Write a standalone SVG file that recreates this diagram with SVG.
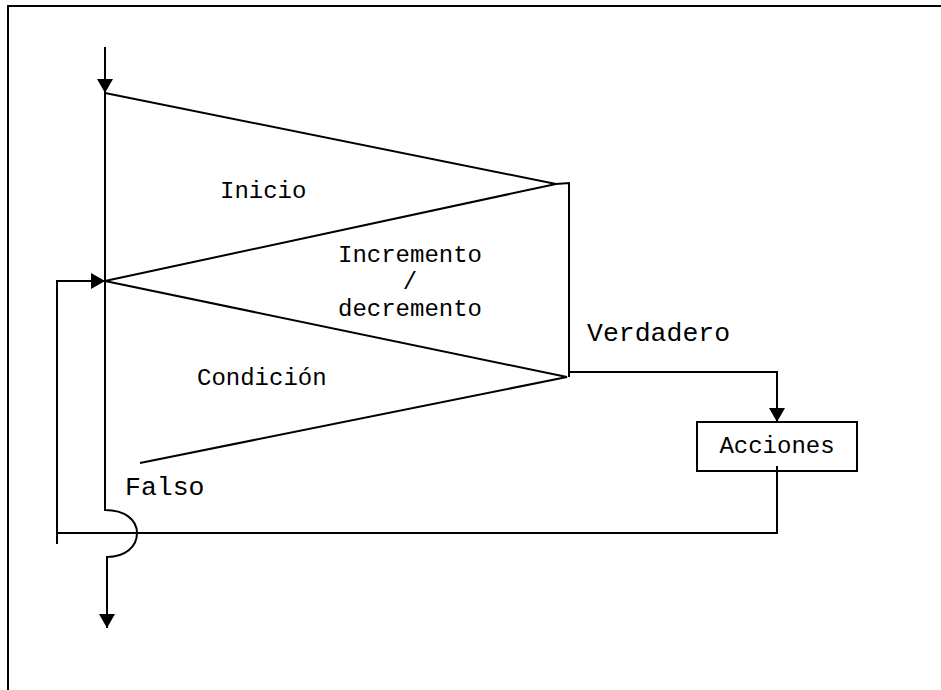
<svg xmlns="http://www.w3.org/2000/svg" width="941" height="690" viewBox="0 0 941 690">
<style>
.ln{fill:none;stroke:#000;stroke-width:2}
.t{font-family:"Liberation Mono","Courier New",monospace;font-size:24px;fill:#000}
.tb{font-family:"Liberation Mono","Courier New",monospace;font-size:26.5px;fill:#000}
</style>
<defs>
<marker id="arr" viewBox="0 0 14 16" refX="14" refY="8" markerWidth="14" markerHeight="16" markerUnits="userSpaceOnUse" orient="auto">
<path d="M0,0 L14,8 L0,16 Z" fill="#000"/>
</marker>
</defs>
<rect width="941" height="690" fill="#fff"/>
<g id="frame">
<path class="ln" d="M8,690 L8,6 L941,6"/>
</g>
<g id="loop-structure">
<path class="ln" d="M105,93 L556,184 L569,183 L569,377"/>
<path class="ln" d="M105,281 L556,184"/>
<path class="ln" d="M105,281 L567,377 L140,463"/>
<text class="t" x="220" y="198">Inicio</text>
<text class="t" x="410" y="262" text-anchor="middle">Incremento</text>
<text class="t" x="410" y="289" text-anchor="middle">/</text>
<text class="t" x="410" y="316" text-anchor="middle">decremento</text>
<text class="t" x="197" y="385">Condición</text>
</g>
<g id="acciones">
<rect class="ln" x="697" y="422" width="160" height="49"/>
<text class="t" x="777" y="453" text-anchor="middle">Acciones</text>
</g>
<g id="connectors">
<path class="ln" d="M105,47 L105,93" marker-end="url(#arr)"/>
<path class="ln" d="M105,93 L105,510 C125,510 137,520 137,533 C137,547 125,557 107,557 L107,628" marker-end="url(#arr)"/>
<path class="ln" d="M569,372 L777,372 L777,422" marker-end="url(#arr)"/>
<path class="ln" d="M777,466 L777,533 L57,533"/>
<path class="ln" d="M57,544 L57,281 L105,281" marker-end="url(#arr)"/>
</g>
<g id="labels">
<text class="tb" x="587" y="341">Verdadero</text>
<text class="tb" x="125" y="495">Falso</text>
</g>
</svg>
